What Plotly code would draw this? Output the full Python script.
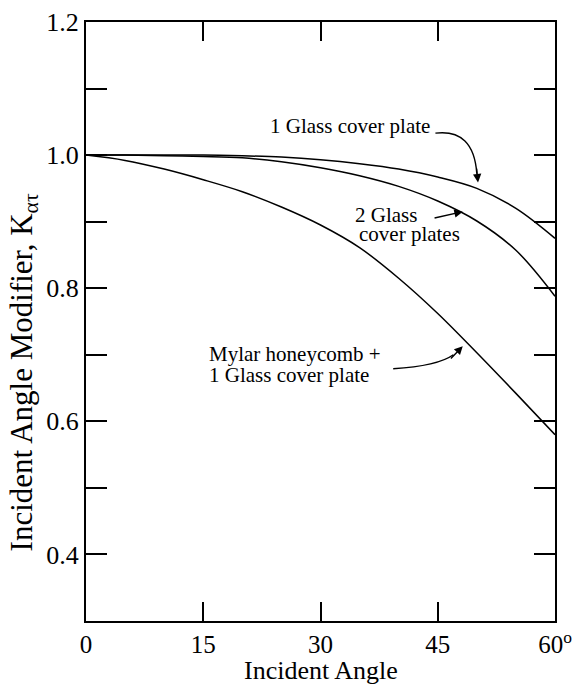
import plotly.graph_objects as go

angles = [0, 5, 10, 15, 20, 25, 30, 35, 40, 45, 50, 55, 60]
one_glass = [1.0, 1.0, 1.0, 1.0, 0.999, 0.997, 0.993, 0.987, 0.979, 0.967, 0.950, 0.920, 0.875]
two_glass = [1.0, 1.0, 0.999, 0.998, 0.996, 0.990, 0.981, 0.969, 0.953, 0.931, 0.901, 0.857, 0.788]
mylar = [1.0, 0.992, 0.979, 0.963, 0.945, 0.922, 0.895, 0.861, 0.815, 0.762, 0.703, 0.642, 0.580]

x_tickvals = [0, 15, 30, 45, 60]
x_ticktext = ["0", "15", "30", "45", "60<sup>o</sup>"]
y_tickvals = [0.4, 0.5, 0.6, 0.7, 0.8, 0.9, 1.0, 1.1, 1.2]
y_ticktext = ["0.4", "", "0.6", "", "0.8", "", "1.0", "", "1.2"]

FONT = "Liberation Serif, Times New Roman, serif"
line_style = dict(color="black", width=1.5)

fig = go.Figure()
for ys in (one_glass, two_glass, mylar):
    fig.add_trace(go.Scatter(x=angles, y=ys, mode="lines",
                             line=dict(shape="spline", smoothing=1.0, **line_style),
                             showlegend=False, hoverinfo="skip"))

ann_font = dict(family=FONT, size=21, color="black")


def label(x, y, text, xanchor="left"):
    return dict(x=x, y=y, text=text, showarrow=False, font=ann_font,
                xanchor=xanchor, yanchor="middle")


annotations = [
    label(33.8, 1.043, "1 Glass cover plate", "center"),
    label(34.15, 0.910, "2 Glass"),
    label(34.65, 0.881, "cover plates"),
    label(15.45, 0.701, "Mylar honeycomb +"),
    label(15.45, 0.670, "1 Glass cover plate"),
    # axis titles
    dict(x=0.5, y=0, xref="paper", yref="paper", yshift=-49, text="Incident Angle",
         showarrow=False, font=dict(family=FONT, size=26, color="black"),
         xanchor="center", yanchor="middle"),
    dict(x=0, y=0.415, xref="paper", yref="paper", xshift=-62,
         text="Incident Angle Modifier, K<sub>ατ</sub>", textangle=-90,
         showarrow=False, font=dict(family=FONT, size=31, color="black"),
         xanchor="center", yanchor="middle"),
    # arrowheads
    dict(x=50.15, y=0.959, ax=49.95, ay=0.982, xref="x", yref="y", axref="x", ayref="y",
         text="", showarrow=True, arrowhead=2, arrowsize=1.2, arrowwidth=1.4, arrowcolor="black"),
    dict(x=48.2, y=0.915, ax=44.4, ay=0.905, xref="x", yref="y", axref="x", ayref="y",
         text="", showarrow=True, arrowhead=2, arrowsize=1.2, arrowwidth=1.4, arrowcolor="black"),
    dict(x=48.2, y=0.713, ax=46.5, ay=0.692, xref="x", yref="y", axref="x", ayref="y",
         text="", showarrow=True, arrowhead=2, arrowsize=1.2, arrowwidth=1.4, arrowcolor="black"),
]

shapes = [
    dict(type="path", xref="x", yref="y", path="M 44.7,1.033 Q 49.6,1.040 50.0,0.972",
         line=dict(color="black", width=1.4)),
    dict(type="path", xref="x", yref="y", path="M 39.3,0.679 Q 45.0,0.683 47.0,0.700",
         line=dict(color="black", width=1.4)),
]

fig.update_layout(
    width=578, height=685,
    margin=dict(l=86, r=23, t=22, b=64, autoexpand=False),
    paper_bgcolor="white", plot_bgcolor="white",
    font=dict(family=FONT, color="black"),
    annotations=annotations,
    shapes=shapes,
)
fig.update_xaxes(
    range=[0, 60], tickvals=x_tickvals, ticktext=x_ticktext,
    ticks="inside", ticklen=19, tickwidth=2, tickcolor="black",
    showline=True, linecolor="black", linewidth=2, mirror="ticks",
    showgrid=False, zeroline=False, automargin=False,
    tickfont=dict(family=FONT, size=25, color="black"),
)
fig.update_yaxes(
    range=[0.3, 1.2], tickvals=y_tickvals, ticktext=y_ticktext,
    ticks="inside", ticklen=21, tickwidth=2, tickcolor="black",
    showline=True, linecolor="black", linewidth=2, mirror="ticks",
    showgrid=False, zeroline=False, automargin=False,
    tickfont=dict(family=FONT, size=26, color="black"),
)

fig.write_html("out.html", config={"displayModeBar": False},
               post_script="document.body.style.margin='0';")
